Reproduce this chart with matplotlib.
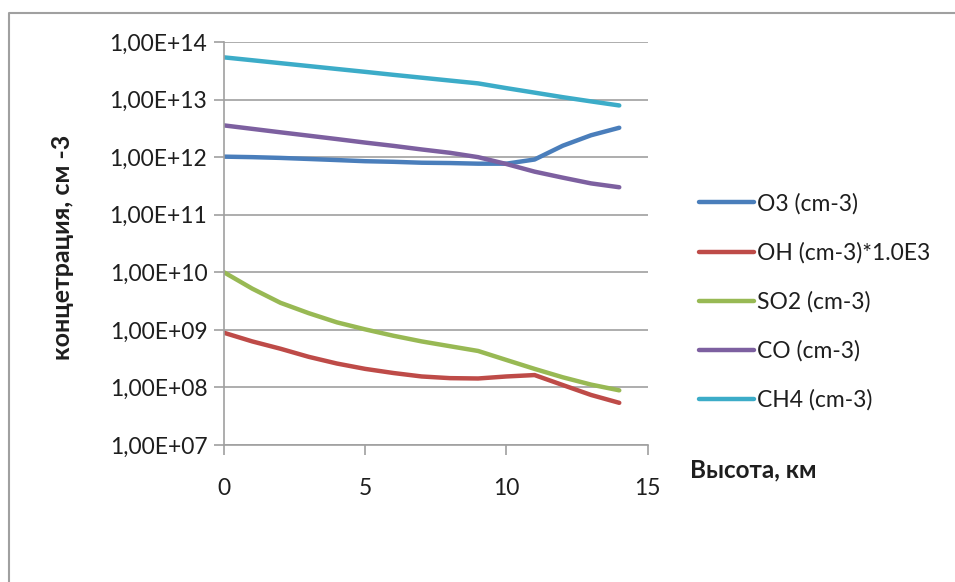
import math
import matplotlib.pyplot as plt
from matplotlib.lines import Line2D
from matplotlib.ticker import FixedLocator, FuncFormatter

height_km = [0, 1, 2, 3, 4, 5, 6, 7, 8, 9, 10, 11, 12, 13, 14]
o3 = [1.02e12, 1.0e12, 9.7e11, 9.3e11, 8.9e11, 8.5e11, 8.3e11, 8.0e11,
      7.9e11, 7.7e11, 7.7e11, 9.1e11, 1.58e12, 2.4e12, 3.24e12]
oh = [8.9e8, 6.3e8, 4.7e8, 3.4e8, 2.6e8, 2.1e8, 1.78e8, 1.55e8,
      1.45e8, 1.43e8, 1.55e8, 1.64e8, 1.1e8, 7.4e7, 5.4e7]
so2 = [1.0e10, 5.2e9, 2.95e9, 1.95e9, 1.35e9, 1.02e9, 7.9e8, 6.3e8,
       5.2e8, 4.3e8, 3.0e8, 2.1e8, 1.5e8, 1.12e8, 8.9e7]
co = [3.56e12, 3.10e12, 2.70e12, 2.36e12, 2.06e12, 1.79e12, 1.57e12, 1.36e12,
      1.19e12, 1.0e12, 7.6e11, 5.6e11, 4.4e11, 3.5e11, 3.0e11]
ch4 = [5.41e13, 4.82e13, 4.29e13, 3.82e13, 3.40e13, 3.03e13, 2.69e13, 2.40e13,
       2.14e13, 1.91e13, 1.58e13, 1.32e13, 1.10e13, 9.3e12, 7.9e12]

series = [
    ("O3 (cm-3)", o3, "#4a7ebb"),
    ("OH (cm-3)*1.0E3", oh, "#be4b48"),
    ("SO2 (cm-3)", so2, "#98b954"),
    ("CO (cm-3)", co, "#7d60a0"),
    ("CH4 (cm-3)", ch4, "#3cacc8"),
]

plt.rcParams['font.family'] = ['Lato', 'DejaVu Sans']
grey = "#a0a0a0"
txt = "#1e1e1e"

fig = plt.figure(figsize=(9.55, 5.82), dpi=100)
ax = fig.add_axes([224 / 955, 1 - 445 / 582, (647.5 - 224) / 955, (445 - 42) / 582])

for name, vals, col in series:
    ax.plot(height_km, vals, color=col, lw=3.2, label=name, solid_capstyle='round')

ax.set_yscale('log')
ax.set_ylim(1e7, 1e14)
ax.set_xlim(0, 15)
ax.yaxis.set_major_locator(FixedLocator([10.0 ** k for k in range(7, 15)]))
ax.yaxis.set_minor_locator(FixedLocator([]))
ax.yaxis.set_major_formatter(FuncFormatter(lambda v, p: "1,00E+%02d" % round(math.log10(v))))
ax.set_xticks([0, 5, 10, 15])
ax.grid(axis='y', color=grey, lw=1.2)
ax.set_axisbelow(True)
for s in ['top', 'right']:
    ax.spines[s].set_visible(False)
for s in ['left', 'bottom']:
    ax.spines[s].set_color(grey)
    ax.spines[s].set_linewidth(1.2)
ax.tick_params(axis='both', colors=grey, labelcolor=txt, labelsize=16.5, length=7, width=1.2)
ax.tick_params(axis='x', pad=17)
ax.tick_params(axis='y', pad=5)

fig.text(62 / 955, 1 - 247 / 582, "концетрация, см -3", rotation=90, ha='center', va='center',
         fontsize=18, fontweight='bold', color=txt)
fig.text(690 / 955, 1 - 470 / 582, "Высота, км", ha='left', va='center',
         fontsize=17.5, fontweight='bold', color=txt)

leg = ax.legend(loc='upper left', bbox_to_anchor=(699 / 955, 1 - 193 / 582), bbox_transform=fig.transFigure,
                frameon=False, fontsize=16.5, labelspacing=1.2, handlelength=2.4, handletextpad=0.12,
                borderpad=0, borderaxespad=0)
for t in leg.get_texts():
    t.set_color(txt)

# chart border (top and left edges visible, the rest runs off the picture)
fig.add_artist(Line2D([9 / 955, 9 / 955, 1.0], [0.0, 1 - 13 / 582, 1 - 13 / 582],
                      transform=fig.transFigure, color=grey, lw=1.5))

fig.savefig('out.png', dpi=100)
